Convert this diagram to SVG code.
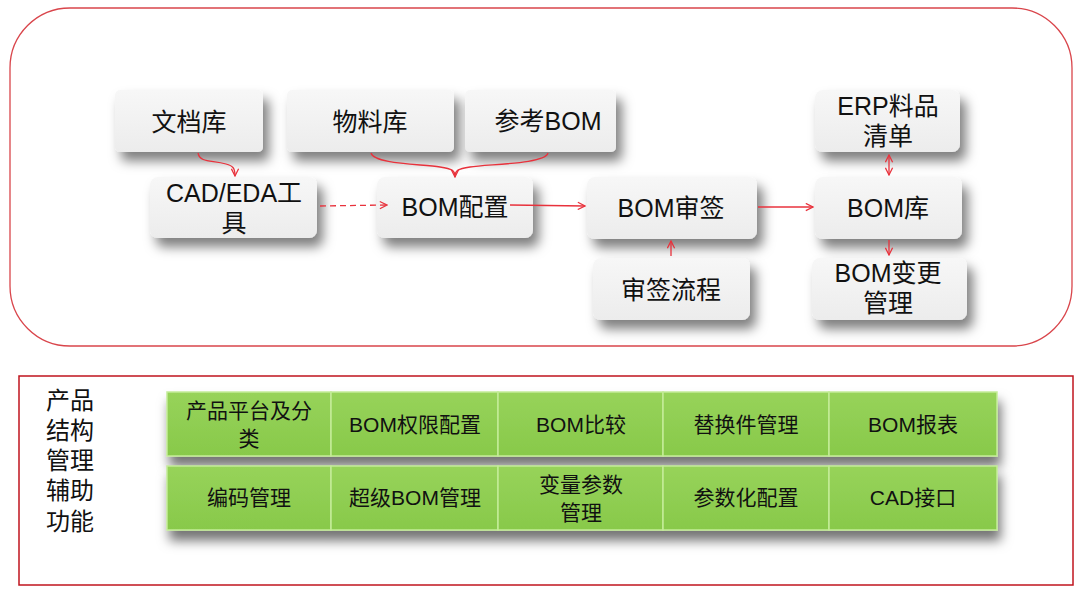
<svg xmlns="http://www.w3.org/2000/svg" width="1080" height="591" viewBox="0 0 1080 591">
<defs>
<filter id="sh" x="-20%" y="-30%" width="150%" height="180%">
<feDropShadow dx="6" dy="9" stdDeviation="6" flood-color="#000" flood-opacity="0.5"/>
</filter>
<filter id="gsh" x="-10%" y="-30%" width="130%" height="180%">
<feDropShadow dx="3" dy="10" stdDeviation="6" flood-color="#000" flood-opacity="0.55"/>
</filter>
<linearGradient id="gray" x1="0" y1="0" x2="0" y2="1">
<stop offset="0" stop-color="#f7f7f7"/><stop offset="1" stop-color="#ececec"/>
</linearGradient>
<linearGradient id="green" x1="0" y1="0" x2="0" y2="1">
<stop offset="0" stop-color="#97d35a"/><stop offset="1" stop-color="#88c94a"/>
</linearGradient>
<marker id="arr" viewBox="0 0 10 10" refX="9" refY="5" markerWidth="9" markerHeight="9" markerUnits="userSpaceOnUse" orient="auto-start-reverse">
<path d="M1,1 L9,5 L1,9" fill="none" stroke="#e8323c" stroke-width="1.4"/>
</marker>
</defs>
<style>
.n{fill:url(#gray);filter:url(#sh)}
.g{fill:url(#green);stroke:#c4ec98;stroke-width:1.5}
.t{font-family:"Liberation Sans","Noto Sans CJK SC",sans-serif;font-size:25px;fill:#111;text-anchor:middle;dominant-baseline:central}
.s{font-family:"Liberation Sans","Noto Sans CJK SC",sans-serif;font-size:21px;fill:#111;text-anchor:middle;dominant-baseline:central}
.c{fill:none;stroke:#e8323c;stroke-width:1.3}
.l{font-family:"Liberation Sans","Noto Sans CJK SC",sans-serif;font-size:24px;fill:#111}
</style>
<rect width="1080" height="591" fill="#fff"/>
<rect x="10" y="8" width="1062" height="338" rx="60" fill="none" stroke="#d9454b" stroke-width="1.3"/>
<rect x="19" y="376" width="1054" height="209" fill="none" stroke="#c0141e" stroke-width="1.5"/>

<g id="wendangku"><rect class="n" x="115" y="90" width="148" height="62" rx="5"/><text class="t" x="189" y="122">文档库</text></g>
<g id="wuliaoku"><rect class="n" x="287" y="90" width="167" height="62" rx="5"/><text class="t" x="370" y="122">物料库</text></g>
<g id="cankaobom"><rect class="n" x="465" y="90" width="151" height="62" rx="5"/><text class="t" x="548" y="121">参考BOM</text></g>
<g id="cadeda"><rect class="n" x="150" y="177" width="167" height="61" rx="8"/><text class="t" x="234" y="193">CAD/EDA工</text><text class="t" x="234" y="223">具</text></g>
<g id="bompeizhi"><rect class="n" x="377" y="177" width="156" height="61" rx="8"/><text class="t" x="455" y="207">BOM配置</text></g>
<g id="bomshenqian"><rect class="n" x="587" y="177" width="170" height="62" rx="8"/><text class="t" x="671" y="208">BOM审签</text></g>
<g id="shenqianliucheng"><rect class="n" x="593" y="258" width="157" height="62" rx="8"/><text class="t" x="671" y="290">审签流程</text></g>
<g id="erp"><rect class="n" x="815" y="90" width="145" height="62" rx="8"/><text class="t" x="888" y="106">ERP料品</text><text class="t" x="888" y="136">清单</text></g>
<g id="bomku"><rect class="n" x="815" y="177" width="147" height="62" rx="8"/><text class="t" x="888" y="208">BOM库</text></g>
<g id="bombiangeng"><rect class="n" x="812" y="258" width="155" height="62" rx="8"/><text class="t" x="888" y="273">BOM变更</text><text class="t" x="888" y="303">管理</text></g>

<g id="connectors">
<path class="c" d="M198,153 C200,163 212,160 226,164 C233,166 235,168 235,176" marker-end="url(#arr)"/>
<path class="c" d="M371,153 C374,164 420,164 440,167 C452,169 455,170 455,177" marker-end="url(#arr)"/>
<path class="c" d="M548,153 C545,164 490,164 470,167 C458,169 455,170 455,177"/>
<path class="c" d="M320,206 L387,205" stroke-dasharray="6,4" marker-end="url(#arr)"/>
<path class="c" d="M510,205 L585,206" marker-end="url(#arr)"/>
<path class="c" d="M758,207 L813,207" marker-end="url(#arr)"/>
<path class="c" d="M671,256 L671,241" marker-end="url(#arr)"/>
<path class="c" d="M889,155 L889,175" marker-start="url(#arr)" marker-end="url(#arr)"/>
<path class="c" d="M889,240 L889,255" marker-end="url(#arr)"/>
</g>

<g id="label-left">
<text class="l" x="46" y="409">产品</text><text class="l" x="46" y="439">结构</text><text class="l" x="46" y="469">管理</text><text class="l" x="46" y="499">辅助</text><text class="l" x="46" y="530">功能</text>
</g>

<g id="row1" filter="url(#gsh)">
<rect class="g" x="167" y="392" width="164" height="64"/>
<rect class="g" x="331" y="392" width="167" height="64"/>
<rect class="g" x="498" y="392" width="165" height="64"/>
<rect class="g" x="663" y="392" width="166" height="64"/>
<rect class="g" x="829" y="392" width="168" height="64"/>
</g>
<g id="row2" filter="url(#gsh)">
<rect class="g" x="167" y="466" width="164" height="64"/>
<rect class="g" x="331" y="466" width="167" height="64"/>
<rect class="g" x="498" y="466" width="165" height="64"/>
<rect class="g" x="663" y="466" width="166" height="64"/>
<rect class="g" x="829" y="466" width="168" height="64"/>
</g>
<g id="cell-texts">
<text class="s" x="249" y="410">产品平台及分</text><text class="s" x="249" y="438">类</text>
<text class="s" x="415" y="424">BOM权限配置</text>
<text class="s" x="581" y="424">BOM比较</text>
<text class="s" x="746" y="424">替换件管理</text>
<text class="s" x="913" y="424">BOM报表</text>
<text class="s" x="249" y="497">编码管理</text>
<text class="s" x="415" y="497">超级BOM管理</text>
<text class="s" x="581" y="484">变量参数</text><text class="s" x="581" y="512">管理</text>
<text class="s" x="746" y="497">参数化配置</text>
<text class="s" x="913" y="497">CAD接口</text>
</g>
</svg>
